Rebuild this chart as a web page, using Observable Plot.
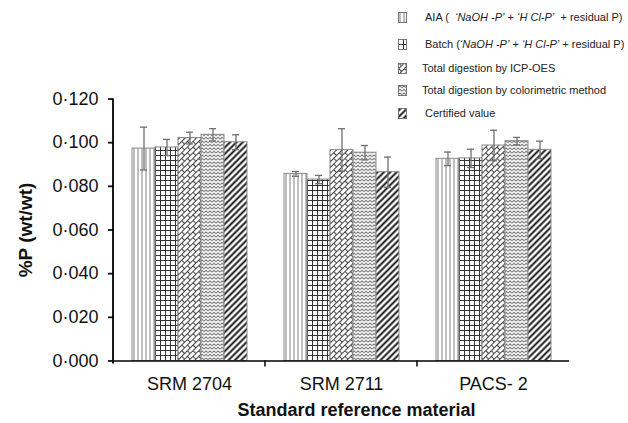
<!DOCTYPE html>
<html><head><meta charset="utf-8">
<script src="https://cdn.jsdelivr.net/npm/d3@7"></script>
<script src="https://cdn.jsdelivr.net/npm/@observablehq/plot@0.6"></script>
<style>
html,body{margin:0;padding:0;background:#fff}
#wrap{position:relative;width:628px;height:423px;font-family:"Liberation Sans",Arial,sans-serif}
#legend{position:absolute;left:398px;top:0;font-size:11px;color:#222}
.row{position:absolute;left:0;display:flex;align-items:center;height:14px;white-space:pre}
.row svg{display:block;flex:none}
</style>
</head><body>
<svg width="0" height="0" style="position:absolute">
<defs>
<pattern id="pat0" patternUnits="userSpaceOnUse" width="4" height="4">
  <rect width="4" height="4" fill="#fff"/>
  <path d="M2,0V4" stroke="#808080" stroke-width="1"/>
</pattern>
<pattern id="pat1" patternUnits="userSpaceOnUse" width="5" height="5">
  <rect width="5" height="5" fill="#fff"/>
  <path d="M0,0.5H5M0.5,0V5" stroke="#333" stroke-width="1"/>
</pattern>
<pattern id="pat2" patternUnits="userSpaceOnUse" width="8" height="8" patternTransform="rotate(-45)">
  <rect width="8" height="8" fill="#fff"/>
  <path d="M0,0.5H8M0,4.5H8M0.5,0.5V4.5M4.5,4.5V8.5" stroke="#444" stroke-width="1.1"/>
</pattern>
<pattern id="pat3" patternUnits="userSpaceOnUse" width="4" height="3.5">
  <rect width="4" height="3.5" fill="#fff"/>
  <path d="M0,2.8L2,0.8L4,2.8" stroke="#555" stroke-width="0.9" fill="none"/>
</pattern>
<pattern id="pat4" patternUnits="userSpaceOnUse" width="4.5" height="4.5" patternTransform="rotate(45)">
  <rect width="4.5" height="4.5" fill="#fff"/>
  <path d="M2.25,0V4.5" stroke="#111" stroke-width="1.9"/>
</pattern>
</defs></svg>
<div id="wrap"><div id="legend"></div></div>
<script>
const categories = ["SRM 2704", "SRM 2711", "PACS- 2"];
const series = ["AIA", "Batch", "ICP-OES", "Colorimetric", "Certified"];
const legendLabels = [
  "AIA (  <i>‘NaOH -P’</i> + <i>‘H Cl-P’</i>  + residual P)",
  "Batch (<i>‘NaOH -P’</i> + <i>‘H Cl-P’</i> + residual P)",
  "Total digestion by ICP-OES",
  "Total digestion by colorimetric method",
  "Certified value"
];
const srm2704 = [0.0973, 0.0978, 0.1021, 0.1036, 0.1002];
const srm2704Err = [0.0098, 0.0037, 0.0027, 0.0028, 0.0034];
const srm2711 = [0.0857, 0.0831, 0.0966, 0.0954, 0.0865];
const srm2711Err = [0.0011, 0.0019, 0.0098, 0.0033, 0.0069];
const pacs2 = [0.0926, 0.0928, 0.0987, 0.1007, 0.0967];
const pacs2Err = [0.0031, 0.0042, 0.0070, 0.0017, 0.0040];
const yTicks = [0, 0.02, 0.04, 0.06, 0.08, 0.10, 0.12];

const vals = [srm2704, srm2711, pacs2];
const errs = [srm2704Err, srm2711Err, pacs2Err];
const rows = [];
categories.forEach((c, ci) => series.forEach((s, si) =>
  rows.push({cat: c, series: s, value: vals[ci][si], err: errs[ci][si]})));

const errColor = "#707070";
const plot = Plot.plot({
  width: 628, height: 423,
  marginLeft: 113, marginRight: 59, marginTop: 98.5, marginBottom: 62.5,
  style: {fontFamily: "Liberation Sans, Arial, sans-serif", background: "transparent", color: "#111"},
  fx: {domain: categories, padding: 0, axis: null},
  x: {domain: series, paddingInner: 0, paddingOuter: 0.75, axis: null},
  y: {domain: [0, 0.12], axis: null},
  color: {domain: series, range: series.map((_, i) => `url(#pat${i})`)},
  marks: [
    Plot.barY(rows, {fx: "cat", x: "series", y: "value", fill: "series", stroke: "#8a8a8a", strokeWidth: 1}),
    Plot.ruleX(rows, {fx: "cat", x: "series", y1: d => d.value - d.err, y2: d => d.value + d.err, stroke: errColor, strokeWidth: 1.3}),
    Plot.tickY(rows, {fx: "cat", x: "series", y: d => d.value + d.err, stroke: errColor, strokeWidth: 1.3, insetLeft: 8, insetRight: 8}),
    Plot.tickY(rows, {fx: "cat", x: "series", y: d => d.value - d.err, stroke: errColor, strokeWidth: 1.3, insetLeft: 8, insetRight: 8}),
    Plot.ruleY([0], {stroke: "black", strokeWidth: 1.5}),
    Plot.axisY({ticks: yTicks, tickFormat: d => d3.format(".3f")(d).replace(".", "·"), tickSize: 5, tickPadding: 10, fontSize: 18, strokeWidth: 1.8, label: null}),
    Plot.axisFx({anchor: "bottom", tickSize: 0, tickPadding: 16, fontSize: 18, label: null}),
    Plot.text(["%P (wt/wt)"], {text: d => d, facet: "super", frameAnchor: "left", rotate: -90, dx: -88, textAnchor: "middle", lineAnchor: "middle", fontWeight: "bold", fontSize: 19}),
    Plot.text(["Standard reference material"], {text: d => d, facet: "super", frameAnchor: "bottom", dx: 15, dy: 49, lineAnchor: "middle", fontWeight: "bold", fontSize: 18})
  ]
});

// y-axis line and category boundary ticks, from the plot's scales
const fxs = plot.scale("fx");
const ys = plot.scale("y");
const y0 = ys.apply(0);
const yTop = ys.apply(d3.max(yTicks));
const [r0, r1] = fxs.range;
const step = (r1 - r0) / categories.length;
const svgSel = d3.select(plot);
svgSel.append("line")
  .attr("x1", r0).attr("x2", r0).attr("y1", yTop).attr("y2", y0 + 3)
  .attr("stroke", "black").attr("stroke-width", 1.8);
for (let i = 1; i < categories.length; i++) {
  svgSel.append("line")
    .attr("x1", r0 + i * step).attr("x2", r0 + i * step)
    .attr("y1", y0).attr("y2", y0 + 6)
    .attr("stroke", "black").attr("stroke-width", 1.5);
}

const wrap = document.getElementById("wrap");
wrap.insertBefore(plot, wrap.firstChild);

const rowTops = [10, 37, 61, 83, 106];
const legend = d3.select("#legend");
series.forEach((s, i) => {
  const row = legend.append("div").attr("class", "row").style("top", rowTops[i] + "px");
  const sw = row.append("svg").attr("width", 9).attr("height", 11);
  sw.append("rect").attr("x", 0.5).attr("y", 0.5).attr("width", 8).attr("height", 10)
    .attr("fill", `url(#pat${i})`).attr("stroke", "#777");
  row.append("span").style("margin-left", (i >= 2 && i <= 3 ? 15 : 18) + "px").html(legendLabels[i]);
});
</script>
</body></html>
